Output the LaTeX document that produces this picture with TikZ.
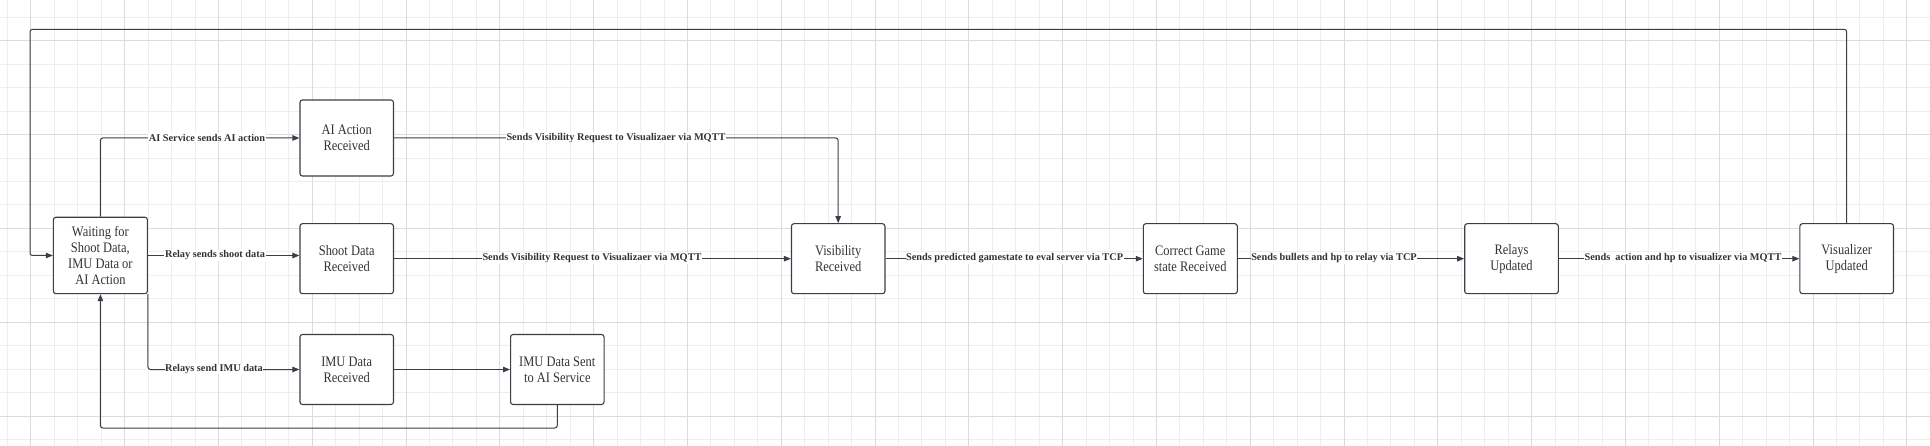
\documentclass[tikz,border=0pt]{standalone}
\usepackage{fontspec}
\setmainfont{Liberation Serif}
\newfontfamily\boxfont[FakeStretch=0.86]{Liberation Serif}
\usetikzlibrary{arrows.meta}
\definecolor{ln}{HTML}{3A3F47}
\definecolor{gminor}{HTML}{EEEEEE}
\definecolor{gmajor}{HTML}{DCDCDC}
\definecolor{txt}{HTML}{333333}
\begin{document}
\begin{tikzpicture}[x=1pt,y=-1pt,
  state/.style={draw=ln, line width=1.1pt, rounded corners=2.5pt, fill=white,
    minimum width=93.5pt, minimum height=70pt, align=center,
    font=\boxfont\fontsize{14.5}{15.8}\selectfont, text=txt, inner sep=0pt},
  conn/.style={draw=ln, line width=1pt, rounded corners=2.5pt,
    -{Triangle[length=7pt,width=5.5pt]}},
  lbl/.style={font=\bfseries\fontsize{10.3}{12}\selectfont, text=txt,
    fill=white, inner sep=0.6pt}]
\useasboundingbox (0,0) rectangle (1930,446);
\fill[white] (0,0) rectangle (1930,446);
% grid
\foreach \i in {0,...,82} {\draw[gminor, line width=0.8pt] ({7.3+23.45*\i},0) -- ({7.3+23.45*\i},446);}
\foreach \i in {0,...,18} {\draw[gminor, line width=0.8pt] (0,{17.3+23.45*\i}) -- (1930,{17.3+23.45*\i});}
\foreach \i in {0,...,20} {\draw[gmajor, line width=0.8pt] ({30.75+93.8*\i},0) -- ({30.75+93.8*\i},446);}
\foreach \i in {0,...,4} {\draw[gmajor, line width=0.8pt] (0,{40.7+93.8*\i}) -- (1930,{40.7+93.8*\i});}

% nodes
\node[state, minimum width=94pt, minimum height=76.4pt] (wait) at (100.4,255.5) {Waiting for\\Shoot Data,\\IMU Data or\\AI Action};
\node[state, minimum height=76pt] (ai) at (346.7,138) {AI Action\\Received};
\node[state] (shoot) at (346.7,258.7) {Shoot Data\\Received};
\node[state] (imur) at (346.7,369.5) {IMU Data\\Received};
\node[state] (sent) at (557.3,369.5) {IMU Data Sent\\to AI Service};
\node[state] (vis) at (838.2,258.7) {Visibility\\Received};
\node[state, minimum width=94pt] (cor) at (1190.3,258.7) {Correct Game\\state Received};
\node[state, minimum width=93.6pt] (rel) at (1511.5,258.7) {Relays\\Updated};
\node[state, minimum width=93.6pt] (viz) at (1846.7,258.7) {Visualizer\\Updated};

\coordinate (tl) at (30,29.3);
\coordinate (bl) at (100.4,428);

% connectors
\draw[conn] (wait.north) |- (ai.west);
\draw[conn] (wait.east) -- (wait.east -| shoot.west);
\draw[conn] (wait.south east) |- (imur.west);
\draw[conn] (imur.east) -- (sent.west);
\draw[conn] (sent.south) |- (bl) -- (wait.south);
\draw[conn] (ai.east) -| (vis.north);
\draw[conn] (shoot.east) -- (vis.west);
\draw[conn] (vis.east) -- (cor.west);
\draw[conn] (cor.east) -- (rel.west);
\draw[conn] (rel.east) -- (viz.west);
\draw[conn] (viz.north) |- (tl) |- (wait.west);

% labels
\node[lbl] (l1) at (207,137.6) {AI Service sends AI action};
\node[lbl] (l2) at (215,255.3) {Relay sends shoot data};
\node[lbl] (l3) at (214,369.2) {Relays send IMU data};
\node[lbl] (l4) at (616,137.6) {Sends Visibility Request to Visualizaer via MQTT};
\node[lbl] (l5) at (592,258.4) {Sends Visibility Request to Visualizaer via MQTT};
\node[lbl] (l6) at (1014.6,258.4) {Sends predicted gamestate to eval server via TCP};
\node[lbl] (l7) at (1334,258.4) {Sends bullets and hp to relay via TCP};
\node[lbl] (l8) at (1683,258.4) {Sends\ \ action and hp to visualizer via MQTT};
\end{tikzpicture}
\end{document}
